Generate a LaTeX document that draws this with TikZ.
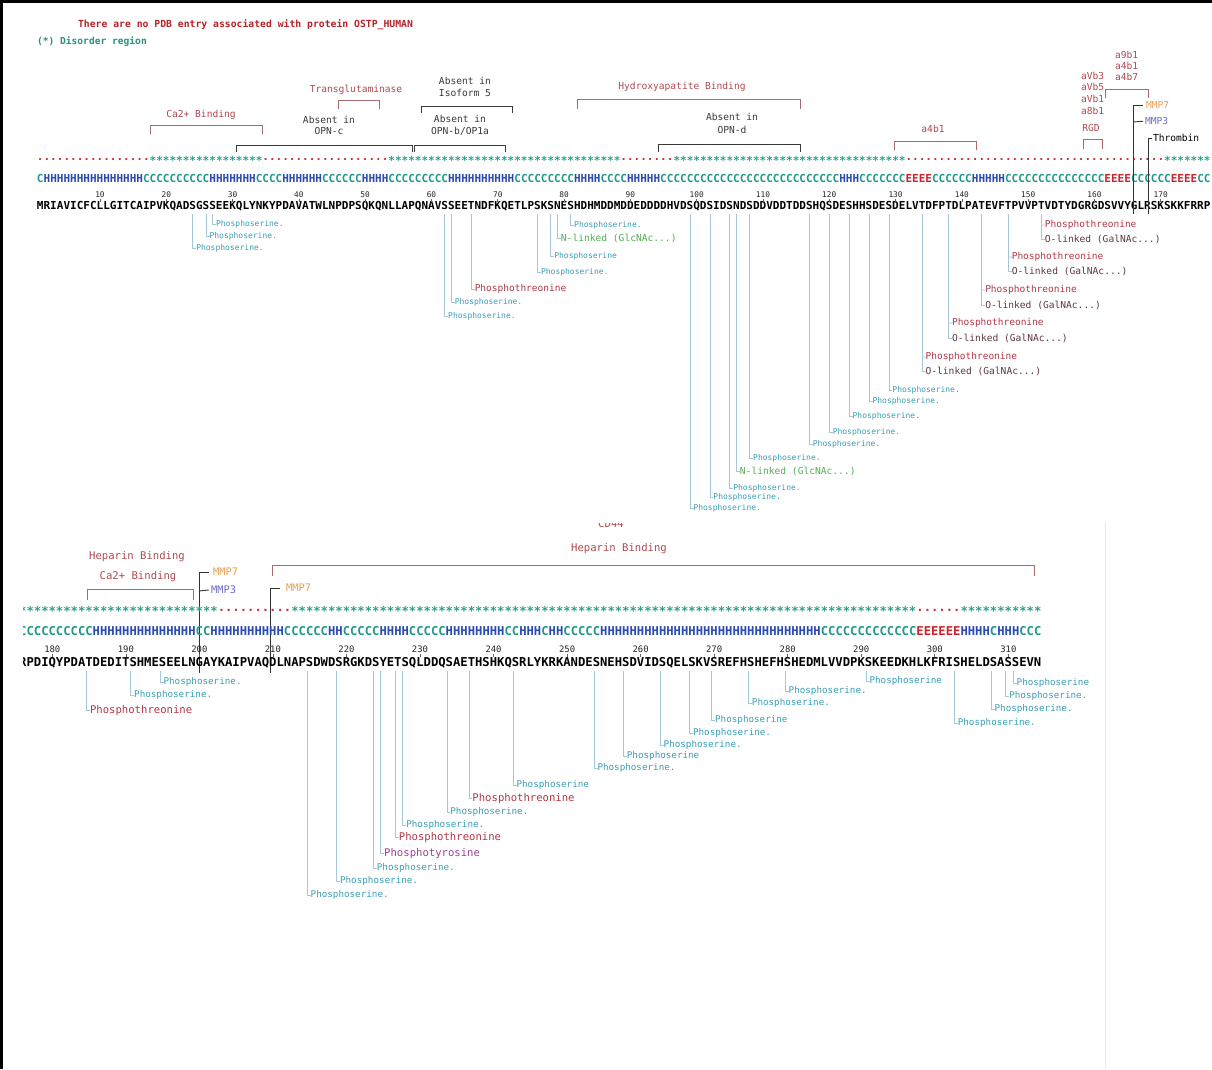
\documentclass[tikz,border=0pt]{standalone}
\usepackage{fontspec}
\setmainfont{DejaVu Sans Mono}
\setmonofont{DejaVu Sans Mono}
\definecolor{hdred}{HTML}{B4232A}
\definecolor{dteal}{HTML}{27917E}
\definecolor{ssH}{HTML}{2B4BB0}
\definecolor{ssC}{HTML}{22998A}
\definecolor{ssE}{HTML}{C9252C}
\definecolor{dstar}{HTML}{2A9F8A}
\definecolor{ddot}{HTML}{C2303A}
\definecolor{flab}{HTML}{B04A50}
\definecolor{fbr}{HTML}{A86A6A}
\definecolor{abs}{HTML}{3A3A3A}
\definecolor{pser}{HTML}{3A9EB6}
\definecolor{pthr}{HTML}{B03848}
\definecolor{olink}{HTML}{5E3A40}
\definecolor{nlink}{HTML}{55AD55}
\definecolor{ptyr}{HTML}{A0409A}
\definecolor{mmpseven}{HTML}{E8A050}
\definecolor{mmpthree}{HTML}{6C6CC6}
\definecolor{leadc}{HTML}{A6C8D6}
\ExplSyntaxOn
\NewDocumentCommand\ssr{mm}{\textcolor{ss#1}{\prg_replicate:nn{#2}{#1}}}
\NewDocumentCommand\dsr{m}{\textcolor{dstar}{\prg_replicate:nn{#1}{\raisebox{-0.18em}{*}}}}
\NewDocumentCommand\ddr{m}{\textcolor{ddot}{\prg_replicate:nn{#1}{\raisebox{0.2em}{.}}}}
\ExplSyntaxOff
\tikzset{
 every node/.style={inner sep=0pt, outer sep=0pt},
 sq1/.style={anchor=mid west, font=\bfseries\fontsize{11.013}{13}\selectfont},
 sq2/.style={anchor=mid west, font=\bfseries\fontsize{12.215}{14}\selectfont},
 num1/.style={anchor=mid, font=\fontsize{7.8}{9}\selectfont, text=black!85},
 num2/.style={anchor=mid, font=\fontsize{8.9}{10}\selectfont, text=black!85},
 lab1/.style={anchor=mid west, font=\fontsize{9.6}{11}\selectfont},
 lab2/.style={anchor=mid west, font=\fontsize{10.4}{12}\selectfont},
 flab1/.style={anchor=mid, font=\fontsize{9.6}{11}\selectfont, text=flab},
 alab1/.style={anchor=mid, font=\fontsize{9.6}{11}\selectfont, text=abs},
 flab2/.style={anchor=mid, font=\fontsize{10.6}{12}\selectfont, text=flab},
 ps1/.style={anchor=mid west, font=\fontsize{8}{9}\selectfont, text=pser},
 ps2/.style={anchor=mid west, font=\fontsize{9.25}{10}\selectfont, text=pser},
 pt1/.style={anchor=mid west, font=\fontsize{9.5}{11}\selectfont, text=pthr},
 pt2/.style={anchor=mid west, font=\fontsize{10.6}{12}\selectfont, text=pthr},
 ol1/.style={anchor=mid west, font=\fontsize{9.6}{11}\selectfont, text=olink},
 nl1/.style={anchor=mid west, font=\fontsize{9.6}{11}\selectfont, text=nlink},
 py2/.style={anchor=mid west, font=\fontsize{10.6}{12}\selectfont, text=ptyr},
 leader/.style={draw=leadc, line width=0.8pt},
 fbrk/.style={draw=fbr, line width=0.9pt},
 abrk/.style={draw=abs, line width=0.9pt},
 cutl/.style={draw=black!80, line width=0.9pt},
 tck/.style={draw=black!60, line width=0.6pt},
}
\begin{document}
\begin{tikzpicture}[x=1pt,y=-1pt]
\useasboundingbox (0,0) rectangle (1212,1069);
\fill[white] (0,0) rectangle (1212,1069);
\fill[black] (0,0) rectangle (1212,2.5);
\fill[black] (0,0) rectangle (3,1069);
\draw[black!8, line width=0.8pt] (1105,522) -- (1105,1069);

% header
\node[anchor=mid west, font=\bfseries\fontsize{9.76}{11}\selectfont, text=hdred] (pdb) at (78,25) {There are no PDB entry associated with protein OSTP\_HUMAN};
\node[anchor=mid west, font=\bfseries\fontsize{9.6}{11}\selectfont, text=dteal] (disl) at (37,42) {(*) Disorder region};

% ===== Row 1 =====
\node[sq1] (dis1) at (36.99,160) {\ddr{17}\dsr{17}\ddr{19}\dsr{35}\ddr{8}\dsr{35}\ddr{39}\dsr{7}};
\node[sq1] (ss1) at (36.99,180) {\ssr{C}{1}\ssr{H}{15}\ssr{C}{10}\ssr{H}{7}\ssr{C}{4}\ssr{H}{6}\ssr{C}{6}\ssr{H}{4}\ssr{C}{9}\ssr{H}{10}\ssr{C}{9}\ssr{H}{4}\ssr{C}{4}\ssr{H}{5}\ssr{C}{27}\ssr{H}{3}\ssr{C}{7}\ssr{E}{4}\ssr{C}{6}\ssr{H}{5}\ssr{C}{15}\ssr{E}{4}\ssr{C}{6}\ssr{E}{4}\ssr{C}{2}};
\node[sq1] (seq1) at (36.99,207) {MRIAVICFCL%
LGITCAIPVK%
QADSGSSEEK%
QLYNKYPDAV%
ATWLNPDPSQ%
KQNLLAPQNA%
VSSEETNDFK%
QETLPSKSNE%
SHDHMDDMDD%
EDDDDHVDSQ%
DSIDSNDSDD%
VDDTDDSHQS%
DESHHSDESD%
ELVTDFPTDL%
PATEVFTPVV%
PTVDTYDGRG%
DSVVYGLRSK%
SKKFRRP};
\foreach \n in {10,20,...,170}{
  \node[num1] (na\n) at ({40.3+(\n-1)*6.63},195) {\n};
  \draw[tck] (na\n.south) ++(0,1.5) -- ++(0,3);
}

% top features row 1
\draw[fbrk] (150,134) -- (150,125) -- (262,125) -- (262,134);
\node[flab1] (ca1) at (201,115) {Ca2+ Binding};
\draw[fbrk] (338,109) -- (338,100) -- (379,100) -- (379,109);
\node[flab1] (tg) at (356,90) {Transglutaminase};
\draw[abrk] (236,152) -- (236,145) -- (412,145) -- (412,152);
\node[alab1] (opnca) at (329,121) {Absent in};
\node[alab1] (opncb) at (329,132) {OPN-c};
\draw[abrk] (421,113) -- (421,106) -- (512,106) -- (512,113);
\node[alab1] (isoa) at (465,82) {Absent in};
\node[alab1] (isob) at (465,94) {Isoform 5};
\draw[abrk] (414,152) -- (414,145) -- (505,145) -- (505,152);
\node[alab1] (opnba) at (460,120) {Absent in};
\node[alab1] (opnbb) at (460,132) {OPN-b/OP1a};
\draw[fbrk] (577,109) -- (577,99) -- (800,99) -- (800,109);
\node[flab1] (hyd) at (682,87) {Hydroxyapatite Binding};
\draw[abrk] (658,152) -- (658,144) -- (800,144) -- (800,152);
\node[alab1] (opnda) at (732,118) {Absent in};
\node[alab1] (opndb) at (732,131) {OPN-d};
\draw[fbrk] (894,150) -- (894,141) -- (976,141) -- (976,150);
\node[flab1] (afb) at (933,130) {a4b1};
\draw[fbrk] (1083,149) -- (1083,139) -- (1102,139) -- (1102,149);
\node[flab1] (rgd) at (1091,129) {RGD};
\node[lab1, text=flab] (avbt) at (1081,77) {aVb3};
\node[lab1, text=flab] (avbf) at (1081,88) {aVb5};
\node[lab1, text=flab] (avbo) at (1081,100) {aVb1};
\node[lab1, text=flab] (aeb) at (1081,112) {a8b1};
\draw[fbrk] (1105,98) -- (1105,89) -- (1148,89) -- (1148,98);
\node[lab1, text=flab] (anb) at (1115,56) {a9b1};
\node[lab1, text=flab] (afbb) at (1115,67) {a4b1};
\node[lab1, text=flab] (afbs) at (1115,78) {a4b7};
\node[lab1, text=mmpseven] (mmpa) at (1146,106) {MMP7};
\node[lab1, text=mmpthree] (mmpb) at (1145,122) {MMP3};
\node[lab1, text=black] (thr) at (1153,139) {Thrombin};
\coordinate (cua) at (1133,214);
\coordinate (cub) at (1133,122);
\coordinate (cuc) at (1148,214);
\draw[cutl] (cua) |- ([xshift=-3pt]mmpa.west);
\draw[cutl] (cub) -- ([xshift=-2pt]mmpb.west);
\draw[cutl] (cuc) |- ([xshift=-1pt]thr.west);

% leaders row 1
\foreach \i/\y/\tx in {24/248/Phosphoserine., 26/236/Phosphoserine., 27/224/Phosphoserine., 62/316/Phosphoserine., 63/302/Phosphoserine., 76/272/Phosphoserine., 78/256/Phosphoserine, 81/225/Phosphoserine., 99/508/Phosphoserine., 102/497/Phosphoserine., 105/488/Phosphoserine., 108/458/Phosphoserine., 117/444/Phosphoserine., 120/432/Phosphoserine., 123/416/Phosphoserine., 126/401/Phosphoserine., 129/390/Phosphoserine.}{
  \coordinate (ta\i) at ({40.3+(\i-1)*6.63},214);
  \node[ps1] (la\i) at ({40.3+(\i-1)*6.63+3.5},\y) {\tx};
  \draw[leader] (ta\i) |- (la\i.west);
}
\coordinate (tt66) at ({40.3+65*6.63},214);
\node[pt1] (lt66) at ({40.3+65*6.63+3.5},289) {Phosphothreonine};
\draw[leader] (tt66) |- (lt66.west);
\foreach \i/\y in {79/239, 106/472}{
  \coordinate (tn\i) at ({40.3+(\i-1)*6.63},214);
  \node[nl1] (ln\i) at ({40.3+(\i-1)*6.63+3.5},\y) {N-linked (GlcNAc...)};
  \draw[leader] (tn\i) |- (ln\i.west);
}
\foreach \i/\yp/\yo in {134/357/372, 138/323/339, 143/290/306, 147/257/272, 152/225/240}{
  \coordinate (tb\i) at ({40.3+(\i-1)*6.63},214);
  \coordinate (mb\i) at ({40.3+(\i-1)*6.63},\yp);
  \node[pt1] (pb\i) at ({40.3+(\i-1)*6.63+3.5},\yp) {Phosphothreonine};
  \node[ol1] (ob\i) at ({40.3+(\i-1)*6.63+3.5},\yo) {O-linked (GalNAc...)};
  \draw[leader] (tb\i) |- (ob\i.west);
  \draw[leader] (mb\i) -- (pb\i.west);
}

% ===== Row 2 =====
\begin{scope}
\clip (560,523.5) rectangle (660,540);
\node[flab2] (cd) at (611,524.5) {CD44};
\end{scope}
\node[flab2] (hepa) at (619,549) {Heparin Binding};
\draw[fbrk] (272,576) -- (272,565) -- (1034,565) -- (1034,576);
\node[flab2] (hepb) at (137,557) {Heparin Binding};
\node[flab2] (cab) at (138,577) {Ca2+ Binding};
\draw[fbrk] (87,600) -- (87,589) -- (193,589) -- (193,600);
\node[lab2, text=mmpseven] (mmpc) at (213,573) {MMP7};
\node[lab2, text=mmpthree] (mmpd) at (211,591) {MMP3};
\node[lab2, text=mmpseven] (mmpe) at (286,589) {MMP7};
\coordinate (cud) at (199,673);
\coordinate (cue) at (199,591);
\coordinate (cuf) at (270,673);
\draw[cutl] (cud) |- ([xshift=-4pt]mmpc.west);
\draw[cutl] (cue) -- ([xshift=-2pt]mmpd.west);
\draw[cutl] (cuf) |- ([xshift=-6pt]mmpe.west);

\begin{scope}
\clip (23.2,600) rectangle (1212,680);
\node[sq2] (dis2) at (19.207,611) {\dsr{27}\ddr{10}\dsr{85}\ddr{6}\dsr{11}};
\node[sq2] (ss2) at (19.207,633) {\ssr{C}{10}\ssr{H}{14}\ssr{C}{2}\ssr{H}{10}\ssr{C}{6}\ssr{H}{2}\ssr{C}{5}\ssr{H}{4}\ssr{C}{5}\ssr{H}{8}\ssr{C}{2}\ssr{H}{3}\ssr{C}{1}\ssr{H}{2}\ssr{C}{5}\ssr{H}{30}\ssr{C}{13}\ssr{E}{6}\ssr{H}{4}\ssr{C}{1}\ssr{H}{3}\ssr{C}{3}};
\node[sq2] (seq2) at (19.207,664) {RPDIQ%
YPDATDEDIT%
SHMESEELNG%
AYKAIPVAQD%
LNAPSDWDSR%
GKDSYETSQL%
DDQSAETHSH%
KQSRLYKRKA%
NDESNEHSDV%
IDSQELSKVS%
REFHSHEFHS%
HEDMLVVDPK%
SKEEDKHLKF%
RISHELDSAS%
SEVN};
\end{scope}
\foreach \n in {180,190,...,310}{
  \node[num2] (nb\n) at ({52.3+(\n-180)*7.354},650) {\n};
  \draw[tck] (nb\n.south) ++(0,1.5) -- ++(0,3);
}
% leaders row 2
\foreach \i/\y/\tx in {195/682/Phosphoserine., 191/695/Phosphoserine., 215/895/Phosphoserine., 219/881/Phosphoserine., 224/868/Phosphoserine., 228/825/Phosphoserine., 234/812/Phosphoserine., 243/785/Phosphoserine, 254/768/Phosphoserine., 258/756/Phosphoserine, 263/745/Phosphoserine., 267/733/Phosphoserine., 270/720/Phosphoserine, 275/703/Phosphoserine., 280/691/Phosphoserine., 291/681/Phosphoserine, 303/723/Phosphoserine., 308/709/Phosphoserine., 310/696/Phosphoserine., 311/683/Phosphoserine}{
  \coordinate (tc\i) at ({52.3+(\i-180)*7.354-2.5},671);
  \node[ps2] (lc\i) at ({52.3+(\i-180)*7.354+1},\y) {\tx};
  \draw[leader] (tc\i) |- (lc\i.west);
}
\foreach \i/\y in {185/711, 227/838, 237/799}{
  \coordinate (td\i) at ({52.3+(\i-180)*7.354-2.5},671);
  \node[pt2] (ld\i) at ({52.3+(\i-180)*7.354+1},\y) {Phosphothreonine};
  \draw[leader] (td\i) |- (ld\i.west);
}
\coordinate (te225) at ({52.3+45*7.354-2.5},671);
\node[py2] (le225) at ({52.3+45*7.354+1},854) {Phosphotyrosine};
\draw[leader] (te225) |- (le225.west);
\end{tikzpicture}
\end{document}
